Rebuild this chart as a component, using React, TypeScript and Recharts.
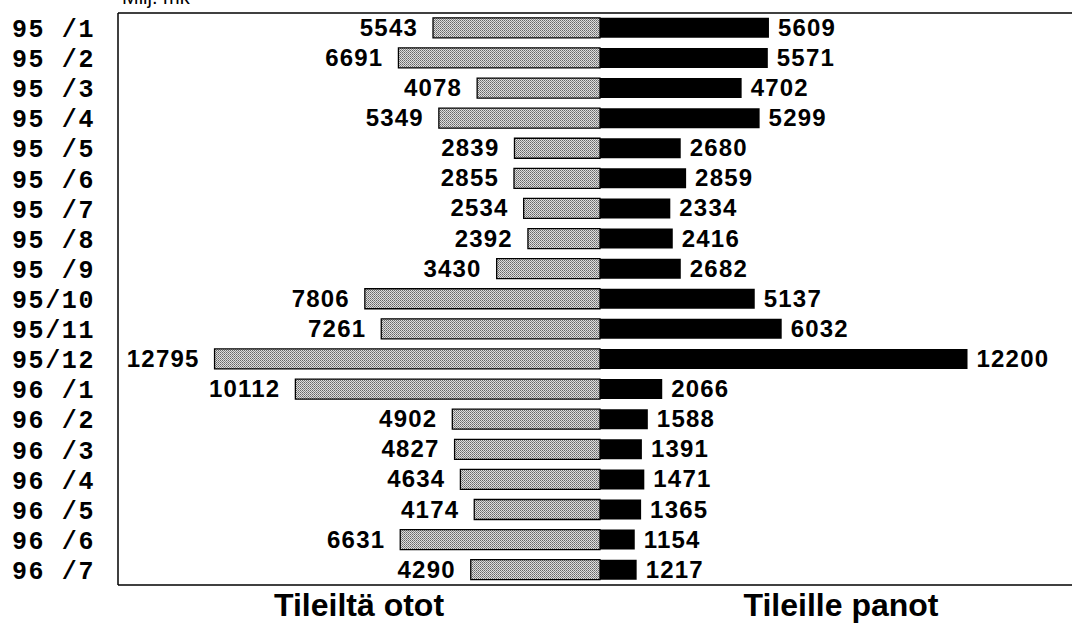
import { BarChart, Bar, XAxis, YAxis, LabelList } from 'recharts'

const months = [
  '95 /1', '95 /2', '95 /3', '95 /4', '95 /5', '95 /6', '95 /7', '95 /8', '95 /9', '95/10',
  '95/11', '95/12', '96 /1', '96 /2', '96 /3', '96 /4', '96 /5', '96 /6', '96 /7',
]
const otot = [5543, 6691, 4078, 5349, 2839, 2855, 2534, 2392, 3430, 7806, 7261, 12795, 10112, 4902, 4827, 4634, 4174, 6631, 4290]
const panot = [5609, 5571, 4702, 5299, 2680, 2859, 2334, 2416, 2682, 5137, 6032, 12200, 2066, 1588, 1391, 1471, 1365, 1154, 1217]
const bottomTicks = [-8000, 8000]
const bottomLabels = ['Tileiltä otot', 'Tileille panot']

const data = months.map((m, i) => ({ m, otot: -otot[i], panot: panot[i] }))

const sans = '"Liberation Sans", Arial, sans-serif'
const mono = '"Liberation Mono", "Courier New", monospace'

function MonthTick({ y, payload }: any) {
  return (
    <text x={12} y={y} dy={9} fontFamily={mono} fontWeight="bold" fontSize={25} letterSpacing={1.6} fill="#000">
      {payload.value}
    </text>
  )
}

function SideTick({ x, y, payload }: any) {
  return (
    <text x={x} y={y} dy={23} textAnchor="middle" fontFamily={sans} fontWeight="bold" fontSize={32} fill="#000">
      {bottomLabels[payload.value < 0 ? 0 : 1]}
    </text>
  )
}

function LeftLabel({ x, y, width, height, value }: any) {
  const left = Math.min(x, x + width)
  return (
    <text x={left - 15} y={y + height / 2} dy={8} textAnchor="end" fontFamily={sans} fontWeight="bold" fontSize={24} letterSpacing={1.2} fill="#000">
      {Math.abs(value)}
    </text>
  )
}

function RightLabel({ x, y, width, height, value }: any) {
  const right = Math.max(x, x + width)
  return (
    <text x={right + 9} y={y + height / 2} dy={8} textAnchor="start" fontFamily={sans} fontWeight="bold" fontSize={24} letterSpacing={1.2} fill="#000">
      {value}
    </text>
  )
}

export default function App() {
  return (
    <div style={{ position: 'absolute', left: 0, top: 0, width: 1072, height: 624, overflow: 'hidden', background: '#fff' }}>
      <BarChart
        width={1100}
        height={624}
        data={data}
        layout="vertical"
        stackOffset="sign"
        barCategoryGap="16%"
        margin={{ top: 13, right: 0, bottom: 0, left: 0 }}
      >
        <defs>
          <pattern id="dots" patternUnits="userSpaceOnUse" width={2} height={2}>
            <rect width={2} height={2} fill="#dedede" />
            <rect width={1} height={1} fill="#666" />
            <rect x={1} y={1} width={1} height={1} fill="#888" />
          </pattern>
        </defs>
        <XAxis
          type="number"
          domain={[-16000, 16598]}
          ticks={bottomTicks}
          tick={<SideTick />}
          tickLine={false}
          height={39}
          axisLine={{ stroke: '#000', strokeWidth: 1.5 }}
        />
        <YAxis
          type="category"
          dataKey="m"
          width={118}
          tickLine={false}
          tick={<MonthTick />}
          axisLine={{ stroke: '#000', strokeWidth: 1.5 }}
        />
        <Bar dataKey="otot" stackId="s" fill="url(#dots)" stroke="#000" strokeWidth={1.3} isAnimationActive={false}>
          <LabelList dataKey="otot" content={<LeftLabel />} />
        </Bar>
        <Bar dataKey="panot" stackId="s" fill="#000" isAnimationActive={false}>
          <LabelList dataKey="panot" content={<RightLabel />} />
        </Bar>
      </BarChart>
      <svg style={{ position: 'absolute', left: 0, top: 0 }} width={1072} height={20}>
        <text x={122} y={4} fontFamily={sans} fontSize={20} fill="#000">Milj. mk</text>
        <line x1={118} y1={13} x2={1072} y2={13} stroke="#000" strokeWidth={1.5} />
      </svg>
    </div>
  )
}
